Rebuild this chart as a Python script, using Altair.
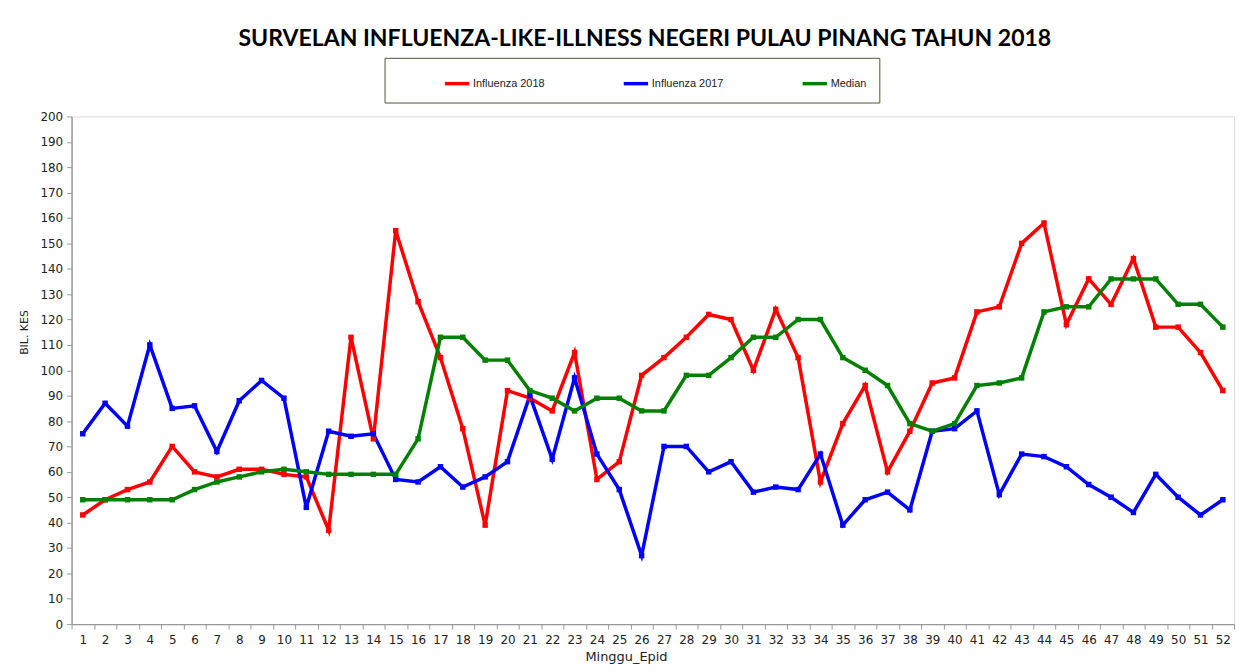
import altair as alt
import pandas as pd

weeks = list(range(1, 53))
influenza_2018 = [43, 49, 53, 56, 70, 60, 58, 61, 61, 59, 58, 37, 113, 73, 155, 127, 105, 77, 39, 92,
                  89, 84, 107, 57, 64, 98, 105, 113, 122, 120, 100, 124, 105, 56, 79, 94, 60, 76, 95, 97,
                  123, 125, 150, 158, 118, 136, 126, 144, 117, 117, 107, 92]
influenza_2017 = [75, 87, 78, 110, 85, 86, 68, 88, 96, 89, 46, 76, 74, 75, 57, 56, 62, 54, 58, 64,
                  90, 65, 97, 67, 53, 27, 70, 70, 60, 64, 52, 54, 53, 67, 39, 49, 52, 45, 76, 77,
                  84, 51, 67, 66, 62, 55, 50, 44, 59, 50, 43, 49]
median = [49, 49, 49, 49, 49, 53, 56, 58, 60, 61, 60, 59, 59, 59, 59, 73, 113, 113, 104, 104,
          92, 89, 84, 89, 89, 84, 84, 98, 98, 105, 113, 113, 120, 120, 105, 100, 94, 79, 76, 79,
          94, 95, 97, 123, 125, 125, 136, 136, 136, 126, 126, 117]

series_names = ["Influenza 2018", "Influenza 2017", "Median"]
series_colors = ["#FF0000", "#0000FF", "#008000"]
y_ticks = list(range(0, 201, 10))

rows = []
for name, vals in zip(series_names, [influenza_2018, influenza_2017, median]):
    for w, v in zip(weeks, vals):
        rows.append({"week": w, "value": v, "series": name})
df = pd.DataFrame(rows)

axis_font = "DejaVu Sans"

chart = alt.Chart(df).mark_line(
    strokeWidth=3.5,
    point=alt.OverlayMarkDef(shape="square", size=30, filled=True, opacity=1),
).encode(
    x=alt.X("week:O",
            scale=alt.Scale(type="band", paddingInner=0, paddingOuter=0),
            axis=alt.Axis(title="Minggu_Epid", tickBand="extent", labelAngle=0,
                          labelFont=axis_font, labelFontSize=12, labelColor="#222222",
                          labelPadding=6, tickSize=5, tickColor="#999999",
                          domainColor="#999999", domainWidth=1.5,
                          titleFont=axis_font, titleFontSize=13, titleFontWeight="normal",
                          titleColor="#222222", titleX=558, titleY=27,
                          titleBaseline="top", grid=False)),
    y=alt.Y("value:Q",
            scale=alt.Scale(domain=[0, 200], nice=False),
            axis=alt.Axis(title="BIL. KES", values=y_ticks, labelFont=axis_font,
                          labelFontSize=12, labelColor="#222222", labelPadding=4,
                          tickSize=5, tickColor="#999999", domainColor="#999999",
                          domainWidth=1.5, grid=False,
                          titleFont=axis_font, titleFontSize=11, titleFontWeight="normal",
                          titleColor="#222222", titleX=-47, titleY=217,
                          titleAngle=-90, titleBaseline="middle", titleAlign="center")),
    color=alt.Color("series:N",
                    scale=alt.Scale(domain=series_names, range=series_colors),
                    sort=series_names,
                    legend=alt.Legend(title=None, orient="none", legendX=315, legendY=-59,
                                      direction="horizontal", columns=3, gridAlign="all",
                                      symbolType="stroke", symbolStrokeWidth=3.5,
                                      symbolSize=600, symbolOffset=47,
                                      labelFont="Liberation Sans Narrow, Liberation Sans, sans-serif",
                                      labelFontSize=11, labelColor="#222222", labelOffset=2,
                                      columnPadding=30, padding=12,
                                      strokeColor="#555533", fillColor="white")),
).properties(
    width=1170,
    height=511,
    title=alt.TitleParams(
        "SURVELAN INFLUENZA-LIKE-ILLNESS NEGERI PULAU PINANG TAHUN 2018",
        font="Lato", fontSize=23.2, fontWeight="bold", color="#000000",
        anchor="middle", dx=-8, offset=6,
    ),
    autosize=alt.AutoSizeParams(type="none"),
    padding={"left": 64, "top": 107, "right": 3, "bottom": 40},
).configure_view(stroke=None).configure(background="white")

chart.save("out.html", embed_options={"renderer": "svg", "actions": False})
